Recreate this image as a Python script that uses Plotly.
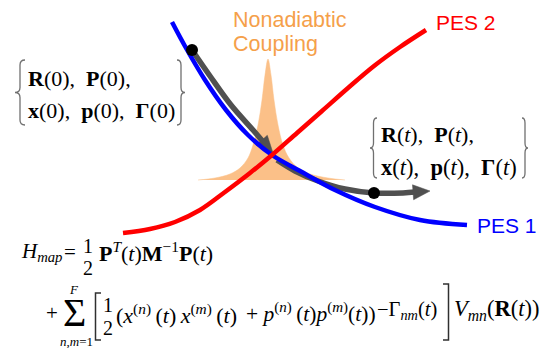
import numpy as np
import plotly.graph_objects as go

W, H = 542, 348

# Potential energy surfaces, sampled in screen units (y grows downward)
pes1_x = [172, 186, 205, 226, 248, 272, 300, 335, 375, 420, 467]
pes1_y = [22, 48, 80, 110, 135, 155, 171, 190, 207, 220, 225]
pes2_x = [123, 150, 175, 200, 225, 250, 272, 297, 322, 348, 374, 400, 426]
pes2_y = [233, 229, 222, 210, 192, 173, 155, 133, 111, 88, 66, 47, 30]

# Nonadiabatic coupling peak around the crossing
coupling_x = [198, 215, 230, 240, 248, 253, 258, 262, 265, 268, 271, 274, 278, 283, 289, 298, 310, 328, 345]
coupling_y = [180, 178, 174, 168, 158, 145, 125, 100, 75, 59, 75, 100, 125, 145, 158, 168, 174, 178, 180]

# Classical trajectory before and after passing the crossing
traj1_x = [192, 210, 231, 253, 265, 273]
traj1_y = [50, 76, 105, 130, 144, 153]
traj2_x = [277, 295, 318, 345, 374, 403, 430]
traj2_y = [160, 171, 181, 189, 193, 193, 191]
state_idx = 4  # point on the second leg where the final state is marked

# Text content
surface_labels = ["PES 1", "PES 2"]
coupling_label = ["Nonadiabtic", "Coupling"]
init_lines = ["<b>R</b>(0),\u00a0 <b>P</b>(0),",
              "<b>x</b>(0),\u00a0 <b>p</b>(0),\u00a0 <b>Γ</b>(0)"]
final_lines = ["<b>R</b>(<i>t</i>),\u00a0 <b>P</b>(<i>t</i>),",
               "<b>x</b>(<i>t</i>),\u00a0 <b>p</b>(<i>t</i>),\u00a0 <b>Γ</b>(<i>t</i>)"]

BLUE, RED, GRAY = "#0000FF", "#FF0000", "#505050"
PEAK, ORANGE = "#FBC088", "#F5A04A"
SERIF = "Liberation Serif, Times New Roman, serif"
SANS = "Liberation Sans, Arial, sans-serif"
TS = "\u2009"  # thin space used in the formula

fig = go.Figure()

# coupling peak (filled)
fig.add_trace(go.Scatter(x=coupling_x, y=coupling_y, mode="lines", fill="toself",
                         fillcolor=PEAK, line=dict(color=PEAK, width=0.5, shape="spline"),
                         hoverinfo="skip"))


def arrow(xs, ys, head_len=17.0, head_w=15.0):
    """Return shaft coordinates and the arrowhead triangle for a path."""
    tip = np.array([xs[-1], ys[-1]], float)
    prev = np.array([xs[-2], ys[-2]], float)
    d = (tip - prev) / np.linalg.norm(tip - prev)
    n = np.array([-d[1], d[0]])
    base = tip - head_len * d
    tri = np.array([base + n * head_w / 2, tip, base - n * head_w / 2, base + n * head_w / 2])
    end = base + 2 * d
    return list(xs[:-1]) + [end[0]], list(ys[:-1]) + [end[1]], tri


for tx, ty in [(traj1_x, traj1_y), (traj2_x, traj2_y)]:
    sx, sy, tri = arrow(tx, ty)
    fig.add_trace(go.Scatter(x=sx, y=sy, mode="lines",
                             line=dict(color=GRAY, width=5.5, shape="spline"), hoverinfo="skip"))
    fig.add_trace(go.Scatter(x=tri[:, 0], y=tri[:, 1], mode="lines", fill="toself",
                             fillcolor=GRAY, line=dict(color=GRAY, width=0.5), hoverinfo="skip"))

# the two surfaces
fig.add_trace(go.Scatter(x=pes1_x, y=pes1_y, mode="lines",
                         line=dict(color=BLUE, width=4.5, shape="spline"), hoverinfo="skip"))
fig.add_trace(go.Scatter(x=pes2_x, y=pes2_y, mode="lines",
                         line=dict(color=RED, width=4.5, shape="spline"), hoverinfo="skip"))

# initial and final phase-space points
fig.add_trace(go.Scatter(x=[traj1_x[0], traj2_x[state_idx]], y=[traj1_y[0], traj2_y[state_idx]],
                         mode="markers", marker=dict(color="black", size=12), hoverinfo="skip"))

ann = []


def txt(x, y, text, size, color="black", family=SERIF, xanchor="left"):
    ann.append(dict(x=x, y=y, xref="x", yref="y", text=text, showarrow=False,
                    xanchor=xanchor, yanchor="middle", align="left",
                    font=dict(size=size, color=color, family=family)))


# surface labels
txt(pes1_x[-1] + 8, pes1_y[-1], surface_labels[0], 21, BLUE, SANS)
txt(pes2_x[-1] + 8, 22, surface_labels[1], 21, RED, SANS)

# coupling label
txt(231, 20, coupling_label[0], 21.5, ORANGE, SANS)
txt(231, 44, coupling_label[1], 21.5, ORANGE, SANS)

# state sets in braces
txt(26, 78, init_lines[0], 22)
txt(26, 110, init_lines[1], 22)
txt(379, 134, final_lines[0], 22)
txt(379, 167, final_lines[1], 22.5)

shapes = []


def brace(x_end, x_tip, y0, y1):
    xc = (x_end + x_tip) / 2
    ym = (y0 + y1) / 2
    r = 5
    p = (f"M{x_end},{y0} Q{xc},{y0} {xc},{y0 + r} L{xc},{ym - r} "
         f"Q{xc},{ym} {x_tip},{ym} Q{xc},{ym} {xc},{ym + r} "
         f"L{xc},{y1 - r} Q{xc},{y1} {x_end},{y1}")
    shapes.append(dict(type="path", path=p, xref="x", yref="y",
                       line=dict(color="#707070", width=1.3)))


brace(25, 15, 60, 125)
brace(177, 185, 60, 125)
brace(377, 370, 118, 178)
brace(522, 528, 118, 178)


def square_bracket(x_end, x_bar, y0, y1):
    shapes.append(dict(type="path", xref="x", yref="y",
                       path=f"M{x_end},{y0} L{x_bar},{y0} L{x_bar},{y1} L{x_end},{y1}",
                       line=dict(color="#303030", width=1.5)))


# mapping Hamiltonian, first line
txt(19, 252, "<i>H</i><sub><i>map</i></sub>", 21)
txt(62, 252, "=", 21)
txt(88, 246, "1", 20, xanchor="center")
txt(88, 268, "2", 20, xanchor="center")
txt(97, 252, "<b>P</b><sup><i>T</i></sup>(<i>t</i>)<b>M</b><sup>−1</sup><b>P</b>(<i>t</i>)", 22)

# second line
txt(44, 313, "+", 21)
txt(74, 312, "Σ", 40, xanchor="center")
txt(74, 289, "<i>F</i>", 13, xanchor="center")
txt(76, 341, "<i>n</i>,<i>m</i>=1", 13, xanchor="center")
square_bracket(101, 95.5, 293, 340)
txt(108, 305, "1", 20, xanchor="center")
txt(108, 328, "2", 20, xanchor="center")
txt(114, 314, f"(<i>x</i><sup>(<i>n</i>)</sup>{TS}(<i>t</i>){TS}<i>x</i><sup>(<i>m</i>)</sup>{TS}(<i>t</i>)", 22)
txt(244, 312, f"+ <i>p</i><sup>(<i>n</i>)</sup>{TS}(<i>t</i>)<i>p</i><sup>(<i>m</i>)</sup>(<i>t</i>))", 21.5)
txt(375, 310, "−Γ<sub><i>nm</i></sub>(<i>t</i>)", 20.5)
square_bracket(443, 448.5, 284, 340)
txt(452, 310, "<i>V</i><sub><i>mn</i></sub>(<b>R</b>(<i>t</i>))", 22.5)

fig.update_layout(
    width=W, height=H, margin=dict(l=0, r=0, t=0, b=0),
    paper_bgcolor="white", plot_bgcolor="white", showlegend=False,
    xaxis=dict(range=[0, W], visible=False, fixedrange=True),
    yaxis=dict(range=[H, 0], visible=False, fixedrange=True),
    annotations=ann, shapes=shapes,
)

fig.write_html("out.html", config={"displayModeBar": False})
